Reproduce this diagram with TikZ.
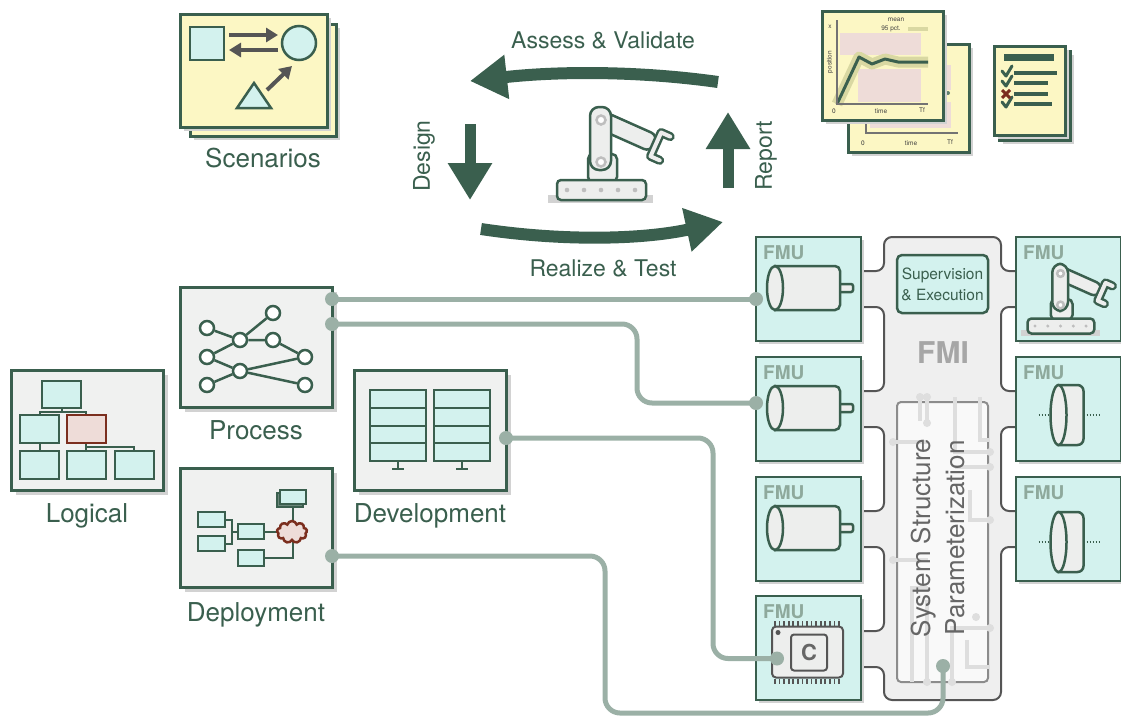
\documentclass[tikz,border=0pt]{standalone}
\usepackage{fontspec}
\setmainfont{TeX Gyre Heros}
\usetikzlibrary{positioning}
\usetikzlibrary{arrows.meta}
\usetikzlibrary{shadows}
\usetikzlibrary{shapes.symbols}
\usetikzlibrary{calc}

\definecolor{dgreen}{HTML}{3A5F4E}
\definecolor{cyanfill}{HTML}{D3F2EE}
\definecolor{panelgray}{HTML}{F0F1F0}
\definecolor{shadowgray}{HTML}{D2D2D2}
\definecolor{paper}{HTML}{FCF7C4}
\definecolor{paperdark}{HTML}{DEDAA8}
\definecolor{wirecol}{HTML}{9BB0A6}
\definecolor{fmutext}{HTML}{8EA99C}
\definecolor{redline}{HTML}{7B2E1E}
\definecolor{pinkfill}{HTML}{EEDCD8}
\definecolor{backfill}{HTML}{EFEFEF}
\definecolor{framegray}{HTML}{555555}
\definecolor{partgray}{HTML}{EDEEED}
\definecolor{jointgray}{HTML}{BEBEBE}
\definecolor{tracegray}{HTML}{DEDEDE}
\definecolor{bandcol}{HTML}{D9D8A2}

\tikzset{
    panel/.style={
        draw=dgreen, line width=3, fill=panelgray,
        minimum width=152, minimum height=120,
        inner sep=0, outer sep=0,
        drop shadow={shadow xshift=5pt, shadow yshift=-5pt, fill=shadowgray, opacity=1}
    },
    sheet/.style={
        draw=dgreen, line width=3, fill=paper, inner sep=0, outer sep=0,
        drop shadow={shadow xshift=4pt, shadow yshift=-4pt, fill=shadowgray, opacity=1}
    },
    caption/.style={text=dgreen, font=\fontsize{26}{30}\selectfont, inner sep=0},
    flow arrow/.style={
        draw=dgreen, line width=12,
        -{Triangle[length=37pt, width=42pt]}
    },
    flow label/.style={text=dgreen, font=\fontsize{23}{26}\selectfont, inner sep=0},
    sketch arrow/.style={
        draw=framegray, line width=4,
        -{Triangle[length=12pt, width=14pt]}
    },
    cbox/.style={draw=dgreen, fill=cyanfill, line width=2.5},
    rbox/.style={draw=redline, fill=pinkfill, line width=2.5},
    link/.style={draw=dgreen, line width=2.5},
    gnode/.style={circle, draw=dgreen, fill=white, line width=2.5, minimum size=14, inner sep=0},
    part/.style={draw=dgreen, fill=partgray, line width=2.5},
    fmu/.style={
        draw=dgreen, line width=2.5, fill=cyanfill,
        minimum width=105, minimum height=104, inner sep=0, outer sep=0,
        drop shadow={shadow xshift=3pt, shadow yshift=-3pt, fill=shadowgray, opacity=1},
        label={[fmulabel]north west:FMU}
    },
    fmulabel/.style={anchor=north west, xshift=7pt, yshift=-8pt, text=fmutext,
        font=\bfseries\fontsize{19}{20}\selectfont, inner sep=0},
    backbone/.style={draw=framegray, fill=backfill, line width=2, rounded corners=8},
    trace/.style={draw=tracegray, line width=4},
    wire/.style={draw=wirecol, line width=5, rounded corners=15},
    wire end/.style={circle, fill=wirecol, inner sep=0, minimum size=14},
    axis/.style={draw=black!55, line width=2},
    charttext/.style={font=\fontsize{6.5}{7}\selectfont, text=black!75, inner sep=0},
    % small motor, disc and robot drawings
    motor/.pic={
        \filldraw[part, rounded corners=2] (60,-4) rectangle (78,4);
        \filldraw[part] (0,-22) [rounded corners=5] -- (65,-22) -- (65,22) [sharp corners] -- (0,22) -- cycle;
        \filldraw[part] (0,0) ellipse [x radius=8, y radius=22];
    },
    disc/.pic={
        \draw[dgreen, line width=2, dash pattern=on 1.5pt off 1.5pt] (-20,0) -- (-6,0);
        \draw[dgreen, line width=2, dash pattern=on 1.5pt off 1.5pt] (28,0) -- (42,0);
        \filldraw[part] (0,-30) [rounded corners=6] -- (25,-30) -- (25,30) [sharp corners] -- (0,30) -- cycle;
        \filldraw[part] (0,0) ellipse [x radius=8, y radius=30];
    },
    robot/.pic={
        \fill[shadowgray] (-53,5) rectangle (52,13);
        \begin{scope}[shift={(0,-70)}, rotate=-24]
            \filldraw[part, rounded corners=7] (-9,-9) rectangle (58,9);
            \draw[dgreen, line width=9, line cap=round, line join=round] (70,-13) -- (60,-13) -- (60,13) -- (70,13);
            \draw[partgray, line width=4, line cap=round, line join=round] (70,-13) -- (60,-13) -- (60,13) -- (70,13);
        \end{scope}
        \filldraw[part, rounded corners=5] (-13,-8) rectangle (16,-36);
        \filldraw[part, rounded corners=9] (-11,-83) rectangle (10,-20);
        \foreach \jy in {-70,-28}
            \filldraw[draw=jointgray, fill=white, line width=2.5] (0,\jy) circle (4.5);
        \filldraw[part, rounded corners=4] (-44,-10) rectangle (45,10);
        \foreach \dx in {-34,-17,0,17,34}
            \fill[jointgray] (\dx,0) circle (2.3);
    }
}

\begin{document}
\begin{tikzpicture}[x=1pt, y=-1pt]
\useasboundingbox (0,0) rectangle (1121,716);

% scenarios
\node[sheet, minimum width=146, minimum height=112] (scenBack) at (263,80) {};
\node[sheet, minimum width=147, minimum height=113] (scenFront) at (253.5,70.5) {};
\node[caption, below=12pt of scenBack] (scenText) {Scenarios};
\draw[cbox] (190,27) rectangle (224,60);
\draw[cbox] (299,43) circle (17);
\draw[cbox] (237,108) -- (271,108) -- (254,83) -- cycle;
\draw[sketch arrow] (229,35) -- (278,35);
\draw[sketch arrow] (278,50) -- (229,50);
\draw[sketch arrow] (267,90) -- (292,66);

% development cycle
\draw[flow arrow] (718,82) .. controls (640,71) and (560,71) .. (470,81);
\node[flow label] (assessText) at (603,40) {Assess \& Validate};
\draw[flow arrow] (481,229) .. controls (560,241) and (640,240) .. (723,222);
\node[flow label] (realizeText) at (603,268) {Realize \& Test};
\draw[flow arrow, line width=11] (470,124) -- (470,200);
\node[flow label, rotate=90] (designText) at (424,156) {Design};
\draw[flow arrow, line width=11] (728,188) -- (728,112);
\node[flow label, rotate=90] (reportText) at (766,156) {Report};
\pic at (601,190) {robot};

% report sheets
\node[sheet, minimum width=121, minimum height=108] (chartBack) at (908.5,98) {};
\fill[pinkfill] (870,65) rectangle (951,90);
\fill[pinkfill] (870,102) rectangle (951,128);
\draw[axis] (866,100) -- (866,133) -- (958,133);
\fill[dgreen!80] (943,94) circle (2) (948,93) circle (2);
\node[charttext] (backZero) at (863,143) {0};
\node[charttext] (backTime) at (911,143) {time};
\node[charttext] (backEnd) at (950,142) {Tf};

\node[sheet, minimum width=121, minimum height=109] (chartFront) at (882.5,65.5) {};
\fill[pinkfill] (840,33) rectangle (921,55);
\fill[pinkfill] (858,69) rectangle (921,102);
\draw[bandcol, line width=11, line join=round] (837,104) -- (859,57) -- (872,64) -- (885,59) -- (898,62) -- (928,62);
\draw[dgreen, line width=3, line join=round] (837,104) -- (859,57) -- (872,64) -- (885,59) -- (898,62) -- (928,62);
\draw[axis] (837,20) -- (837,104) -- (928,104);
\draw[bandcol, line width=4] (908,29) -- (928,29);
\node[charttext] (chartX) at (830,27) {x};
\node[charttext, rotate=90] (chartPos) at (830,62) {position};
\node[charttext] (chartZero) at (834,111) {0};
\node[charttext] (chartTime) at (881,111) {time};
\node[charttext] (chartEnd) at (922,110) {Tf};
\node[charttext] (chartMean) at (896,20) {mean};
\node[charttext] (chartPct) at (891,29) {95 pct.};

% checklist
\node[sheet, fill=paperdark, minimum width=71, minimum height=89] (checkBack) at (1034.5,95.5) {};
\node[sheet, minimum width=71, minimum height=89] (checkFront) at (1029.5,90.5) {};
\fill[dgreen] (1004,54) rectangle (1054,61);
\foreach \y/\x in {73/1057, 83/1048, 94/1048, 104/1052}
    \draw[dgreen, line width=4] (1014,\y) -- (\x,\y);
\foreach \y in {73,83,104}
    \draw[dgreen, line width=3, line cap=round, line join=round] (1002,\y-2) -- (1006,\y+3) -- (1012,\y-7);
\draw[redline, line width=3] (1002,90) -- (1010,98) (1002,98) -- (1010,90);

% architecture views
\node[panel] (logical) at (87,430) {};
\node[caption, below=13pt of logical] (logicalText) {Logical};
\node[panel] (process) at (256,347) {};
\node[caption, below=13pt of process] (processText) {Process};
\node[panel, minimum height=119] (deploy) at (256,527.5) {};
\node[caption, below=15pt of deploy] (deployText) {Deployment};
\node[panel] (develop) at (430,430) {};
\node[caption, below=13pt of develop] (developText) {Development};

% logical view
\draw[link] (62,408) -- (62,412) (40,415) -- (40,412) -- (86,412) -- (86,415);
\draw[link] (40,443) -- (40,451) (86,443) -- (86,451) (86,447) -- (134,447) -- (134,451);
\draw[cbox] (42,381) rectangle (81,408);
\draw[cbox] (20,415) rectangle (59,443);
\draw[rbox] (67,415) rectangle (106,443);
\foreach \x in {20,67,115}
    \draw[cbox] (\x,451) rectangle ++(39,28);

% process view
\node[gnode] (pa) at (207,328) {};
\node[gnode] (pb) at (207,357) {};
\node[gnode] (pc) at (207,385) {};
\node[gnode] (pd) at (240,340) {};
\node[gnode] (pe) at (240,371) {};
\node[gnode] (pf) at (273,313) {};
\node[gnode] (pg) at (273,340) {};
\node[gnode] (ph) at (305,357) {};
\node[gnode] (pi) at (305,385) {};
\draw[link] (pa) -- (pd) -- (pf) (pd) -- (pg) -- (ph) (pb) -- (pd)
    (pb) -- (pe) -- (ph) (pc) -- (pe) -- (pi);

% deployment view
\draw[link] (225,520) -- (232,520) -- (232,544) -- (225,544) (232,532) -- (238,532)
    (264,532) -- (283,532) (293,507) -- (293,558) -- (264,558);
\draw[cbox] (198,512) rectangle (225,527);
\draw[cbox] (198,536) rectangle (225,551);
\draw[cbox] (238,524) rectangle (264,539);
\draw[cbox] (238,550) rectangle (264,566);
\draw[cbox, fill=dgreen!75] (277,493) rectangle (303,507);
\draw[cbox] (280,490) rectangle (306,504);
\node[cloud, cloud puffs=9, draw=redline, fill=pinkfill, line width=2.5,
    minimum width=30, minimum height=22, inner sep=0] (cloud) at (292,532) {};

% development view
\foreach \x in {370,434} {
    \draw[cbox] (\x,390) rectangle ++(56,71);
    \draw[link] (\x,408) -- ++(56,0) (\x,426) -- ++(56,0) (\x,443) -- ++(56,0);
    \draw[link] (\x+28,461) -- ++(0,8) ++(-6,0) -- ++(12,0);
}

% FMI backbone
\draw[backbone] (884,237) -- (1001,237)
    foreach \t in {271,391,511} { -- (1001,\t) -- (1030,\t) -- (1030,\t+36) -- (1001,\t+36) }
    -- (1001,700) -- (884,700)
    foreach \t in {631,511,391,271} { -- (884,\t+36) -- (850,\t+36) -- (850,\t) -- (884,\t) }
    -- cycle;
\node[draw=black!45, fill=white!60!backfill, line width=2, rounded corners=4,
    minimum width=91, minimum height=280, inner sep=0] (ssp) at (942.5,542) {};
\begin{scope}[trace]
    \draw (920,397) -- (920,421) (927,397) -- (927,423);
    \draw (955,397) |- (990,452);
    \draw (980,397) -- (980,440) -- (990,440);
    \draw (955,467) -- (990,467);
    \draw (893,442) -- (928,442);
    \draw (893,560) -- (928,560);
    \draw (970,490) |- (990,520);
    \draw (912,682) |- (928,588);
    \draw (927,682) -- (927,600);
    \draw (952,682) |- (990,628);
    \draw (967,640) |- (990,667);
    \fill[tracegray] (920,397) circle (4) (927,397) circle (4) (927,423) circle (4)
        (893,442) circle (4) (893,560) circle (4) (990,452) circle (4)
        (990,467) circle (4) (976,617) circle (4) (990,628) circle (4)
        (990,520) circle (4) (927,682) circle (4) (952,682) circle (4);
\end{scope}
\node[text=black!60, rotate=90, align=center, inner sep=0,
    font=\fontsize{26}{34}\selectfont] (sspText) at (938,538) {System Structure\\Parameterization};
\node[draw=dgreen, fill=cyanfill, line width=2.5, rounded corners=5,
    minimum width=91, minimum height=58, inner sep=0, align=center, text=dgreen,
    font=\fontsize{15.5}{21}\selectfont] (superv) at (942.5,284) {Supervision\\\& Execution};
\node[text=black!35, font=\bfseries\fontsize{30}{30}\selectfont] (fmiText) at (943,353) {FMI};

% FMUs
\node[fmu] (fmuA) at (808.5,289) {};
\node[fmu, below=16pt of fmuA] (fmuB) {};
\node[fmu, below=16pt of fmuB] (fmuC) {};
\node[fmu, below=15pt of fmuC] (fmuD) {};
\node[fmu, right=155pt of fmuA] (fmuE) {};
\node[fmu, below=16pt of fmuE] (fmuF) {};
\node[fmu, below=16pt of fmuF] (fmuG) {};

\foreach \m in {fmuA,fmuB,fmuC}
    \pic at ([shift={(-33.5,-1)}]\m.center) {motor};
\pic at ([shift={(-10,6)}]fmuF.center) {disc};
\pic at ([shift={(-10,13)}]fmuG.center) {disc};
\pic[scale=0.75] at ([shift={(-8,37)}]fmuE.center) {robot};

% embedded target
\node[draw=framegray, fill=partgray, line width=2, rounded corners=4,
    minimum width=71, minimum height=51, inner sep=0] (chip) at ([shift={(-1,4)}]fmuD.center) {};
\foreach \i in {0,...,14} {
    \draw[framegray, line width=1.6] ([xshift=4+4.57*\i]chip.north west) -- ++(0,-5);
    \draw[framegray, line width=1.6] ([xshift=4+4.57*\i]chip.south west) -- ++(0,5);
}
\node[draw=framegray, fill=partgray, line width=2, rounded corners=3, minimum size=36,
    inner sep=0, text=black!60, font=\bfseries\fontsize{22}{22}\selectfont]
    (chipCore) at ([shift={(1.5,0.5)}]chip.center) {C};
\fill[framegray] ([shift={(7,7)}]chip.north west) circle (2.5);

% connections
\coordinate (procOutA) at ($(process.east)+(0,-48)$);
\coordinate (procOutB) at ($(process.east)+(0,-23)$);
\coordinate (devOut) at ($(develop.east)+(0,8)$);
\coordinate (depOut) at ($(deploy.east)+(0,28.5)$);
\coordinate (fmuAIn) at (procOutA -| fmuA.west);
\coordinate (fmuBIn) at ($(fmuB.west)+(0,-6)$);
\coordinate (chipIn) at ($(chip.west)+(6,6.5)$);
\coordinate (sspIn) at ($(ssp.south)+(0.5,-17)$);
\coordinate (routeB) at (637,0);
\coordinate (routeC) at (713,0);
\coordinate (routeD) at (605,713);

\draw[wire] (procOutA) -- (fmuAIn);
\draw[wire] (procOutB) -| (fmuBIn -| routeB) -- (fmuBIn);
\draw[wire] (devOut) -| (chipIn -| routeC) -- (chipIn);
\draw[wire] (depOut) -| (routeD) -| (sspIn);
\foreach \p in {procOutA,procOutB,devOut,depOut,fmuAIn,fmuBIn,chipIn,sspIn}
    \node[wire end] (dot-\p) at (\p) {};
\end{tikzpicture}
\end{document}
